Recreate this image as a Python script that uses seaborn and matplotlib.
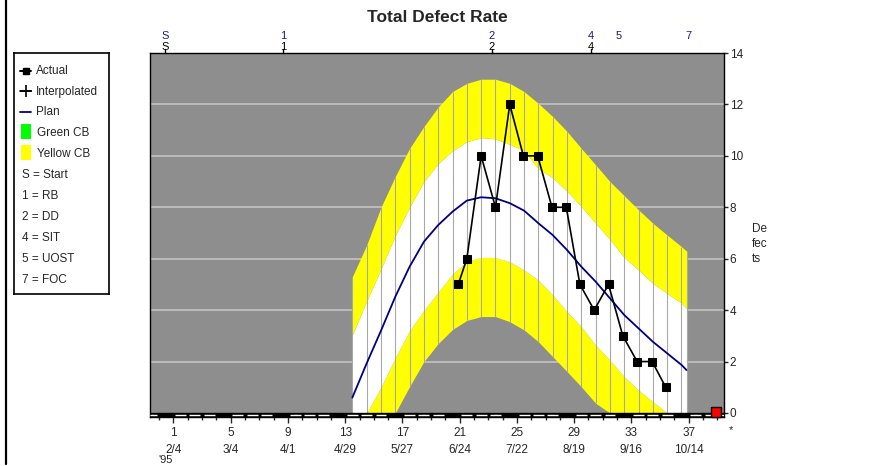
import matplotlib
matplotlib.use("Agg")
import matplotlib.pyplot as plt
import seaborn as sns
from matplotlib.lines import Line2D
from matplotlib.patches import Rectangle

# control band columns (weeks)
band_weeks = [13.5, 14.5, 15.5, 16.5, 17.5, 18.5, 19.5, 20.5, 21.5, 22.5, 23.5, 24.5,
              25.5, 26.5, 27.5, 28.5, 29.5, 30.5, 31.5, 32.5, 33.5, 34.5, 35.5, 36.5, 36.85]
plan = [0.6, 1.93, 3.2, 4.52, 5.69, 6.66, 7.31, 7.83, 8.26, 8.39, 8.35, 8.16,
        7.87, 7.38, 6.92, 6.34, 5.69, 5.11, 4.46, 3.81, 3.29, 2.77, 2.32, 1.87, 1.67]
yellow_hi = [5.3, 6.53, 8.0, 9.2, 10.29, 11.14, 11.9, 12.5, 12.82, 12.98, 12.98, 12.82,
             12.5, 12.04, 11.53, 10.95, 10.29, 9.65, 9.0, 8.45, 7.9, 7.38, 6.92, 6.47, 6.3]
white_hi = [3.03, 4.35, 5.6, 6.9, 8.0, 9.0, 9.7, 10.2, 10.55, 10.71, 10.66, 10.45,
            10.2, 9.5, 9.15, 8.62, 8.03, 7.38, 6.75, 6.05, 5.56, 5.04, 4.65, 4.27, 4.07]
white_lo = [0.0, 0.0, 1.0, 2.15, 3.2, 4.0, 4.7, 5.4, 5.9, 6.05, 6.05, 5.88,
            5.56, 5.17, 4.59, 3.94, 3.36, 2.64, 2.06, 1.41, 0.89, 0.44, 0.0, 0.0, 0.0]
yellow_lo = [0.0, 0.0, 0.0, 0.0, 1.03, 2.0, 2.7, 3.25, 3.6, 3.75, 3.75, 3.55,
             3.23, 2.77, 2.19, 1.61, 1.02, 0.38, 0.0, 0.0, 0.0, 0.0, 0.0, 0.0, 0.0]

# actual defects
actual_weeks = [20.9, 21.5, 22.5, 23.5, 24.5, 25.45, 26.45, 27.45, 28.45, 29.4,
                30.4, 31.4, 32.4, 33.4, 34.45, 35.4]
actual_defects = [5, 6, 10, 8, 12, 10, 10, 8, 8, 5, 4, 5, 3, 2, 2, 1]

tick_weeks = [1, 5, 9, 13, 17, 21, 25, 29, 33, 37]
tick_dates = ['2/4', '3/4', '4/1', '4/29', '5/27', '6/24', '7/22', '8/19', '9/16', '10/14']

milestone_weeks = [0.41, 8.65, 23.26, 30.18, 32.13, 36.96]
milestone_codes = ['S', '1', '2', '4', '5', '7']
reached_codes = ['S', '1', '2', '4']
legend_keys = ['S = Start', '1 = RB', '2 = DD', '4 = SIT', '5 = UOST', '7 = FOC']

sns.set_style("white")
plt.rcParams['font.family'] = ['Liberation Sans', 'DejaVu Sans']

W, H = 877, 466
fig = plt.figure(figsize=(W / 100, H / 100), dpi=100)

# main axes in pixel layout
L, R, T, B = 150, 724, 53, 417
ax = fig.add_axes([L / W, (H - B) / H, (R - L) / W, (B - T) / H])
ax.set_facecolor('#8e8e8e')
ax.set_xlim(-0.64, 39.47)
ax.set_ylim(-0.156, 14)

for g in range(2, 14, 2):
    ax.axhline(g, color='#c8c8c8', lw=1.1, zorder=0.5)

# control bands
ax.fill_between(band_weeks, yellow_lo, white_lo, color='#ffff00', lw=0, zorder=1)
ax.fill_between(band_weeks, white_lo, white_hi, color='white', lw=0, zorder=1)
ax.fill_between(band_weeks, white_hi, yellow_hi, color='#ffff00', lw=0, zorder=1)
ax.vlines(band_weeks, yellow_lo, yellow_hi, color='#a8a8a8', lw=0.8, zorder=1.5)

sns.lineplot(x=band_weeks, y=plan, ax=ax, color='#000080', lw=1.3, estimator=None, zorder=3)
sns.lineplot(x=actual_weeks, y=actual_defects, ax=ax, color='black', lw=1.2, marker='s',
             markersize=6, markeredgecolor='black', estimator=None, zorder=4)

# calendar strip along the bottom
ax.axhspan(-0.156, 0, color='black', zorder=5)
for w in range(-1, 40):
    if w % 4 != 0:
        ax.plot([max(w + 0.12, -0.64), min(w + 0.88, 39.47)], [-0.078, -0.078],
                color='white', lw=1.0, solid_capstyle='butt', zorder=6)
ax.plot([38.9], [0.05], 's', ms=7.5, color='#ff0000', mec='black', mew=1,
        clip_on=False, zorder=7)

for s in ax.spines.values():
    s.set_color('black')
    s.set_linewidth(1)

ax.set_xticks(tick_weeks, labels=[f"{w}\n{d}" for w, d in zip(tick_weeks, tick_dates)])
ax.set_xticks(range(0, 40), minor=True)
ax.tick_params(axis='x', which='major', length=4, width=1, direction='out',
               labelsize=8.5, pad=3, bottom=True, top=False)
ax.tick_params(axis='x', which='minor', length=2.5, width=1, direction='out',
               bottom=True, top=False)
for t in ax.get_xticklabels():
    t.set_linespacing(1.55)
ax.annotate("'95", xy=(1, 0), xycoords=('data', 'axes fraction'), xytext=(-15, -43),
            textcoords='offset pixels', fontsize=8, ha='left', va='center')
ax.text(1.012, -0.035, '*', transform=ax.transAxes, fontsize=8, ha='center', va='center')

ax.yaxis.tick_right()
ax.set_yticks(range(0, 15, 2))
ax.tick_params(axis='y', length=3, width=1, direction='out', labelsize=8.5, pad=1,
               right=True, left=False)
ax.set_xlabel('')
ax.set_ylabel('')
fig.text(752 / W, 1 - 244 / H, 'De\nfec\nts', fontsize=8.5, ha='left', va='center',
         linespacing=1.3)

# milestones on top
xt = ax.get_xaxis_transform()
for w, c in zip(milestone_weeks, milestone_codes):
    ax.text(w, 1.0475, c, transform=xt, color='#1a1a8c', fontsize=8, ha='center',
            va='center')
    if c in reached_codes:
        ax.text(w, 1.0155, c, transform=xt, color='black', fontsize=8, ha='center',
                va='center')
        ax.plot([w, w], [1.0, 1.01], transform=xt, color='black', lw=1, clip_on=False)

fig.text(437 / W, 1 - 18 / H, 'Total Defect Rate', fontsize=12.5, fontweight='bold',
         ha='center', va='center')

# left border
fig.add_artist(Line2D([6 / W, 6 / W], [0.005, 1], transform=fig.transFigure,
                      color='black', lw=1.6))

# legend box drawn in pixel coords
lx0, lx1, ly0, ly1 = 14.3, 109.3, 53.3, 294
lax = fig.add_axes([lx0 / W, (H - ly1) / H, (lx1 - lx0) / W, (ly1 - ly0) / H])
lax.set_xlim(lx0, lx1)
lax.set_ylim(ly1, ly0)
lax.set_xticks([])
lax.set_yticks([])
for s in lax.spines.values():
    s.set_color('black')
    s.set_linewidth(1.2)
fs = 8.5
lax.plot([20, 31], [71, 71], color='black', lw=1.4)
lax.plot([25.5], [71], 's', ms=5, color='black')
lax.text(36, 71, 'Actual', fontsize=fs, va='center')
lax.plot([20, 31], [91, 91], color='black', lw=1.2)
lax.plot([25.5], [91], '+', ms=8, mew=1.2, color='black')
lax.text(36, 92, 'Interpolated', fontsize=fs, va='center')
lax.plot([20, 31], [112, 112], color='#000080', lw=1.3)
lax.text(36, 112, 'Plan', fontsize=fs, va='center')
lax.add_patch(Rectangle((21, 124), 10, 15, color='#00ff00', lw=0))
lax.text(37, 133, 'Green CB', fontsize=fs, va='center')
lax.add_patch(Rectangle((21, 145), 10, 15, color='#ffff00', lw=0))
lax.text(37, 154, 'Yellow CB', fontsize=fs, va='center')
for i, k in enumerate(legend_keys):
    lax.text(22, 175 + 21 * i, k, fontsize=fs, va='center')

fig.savefig('out.png', dpi=100)
